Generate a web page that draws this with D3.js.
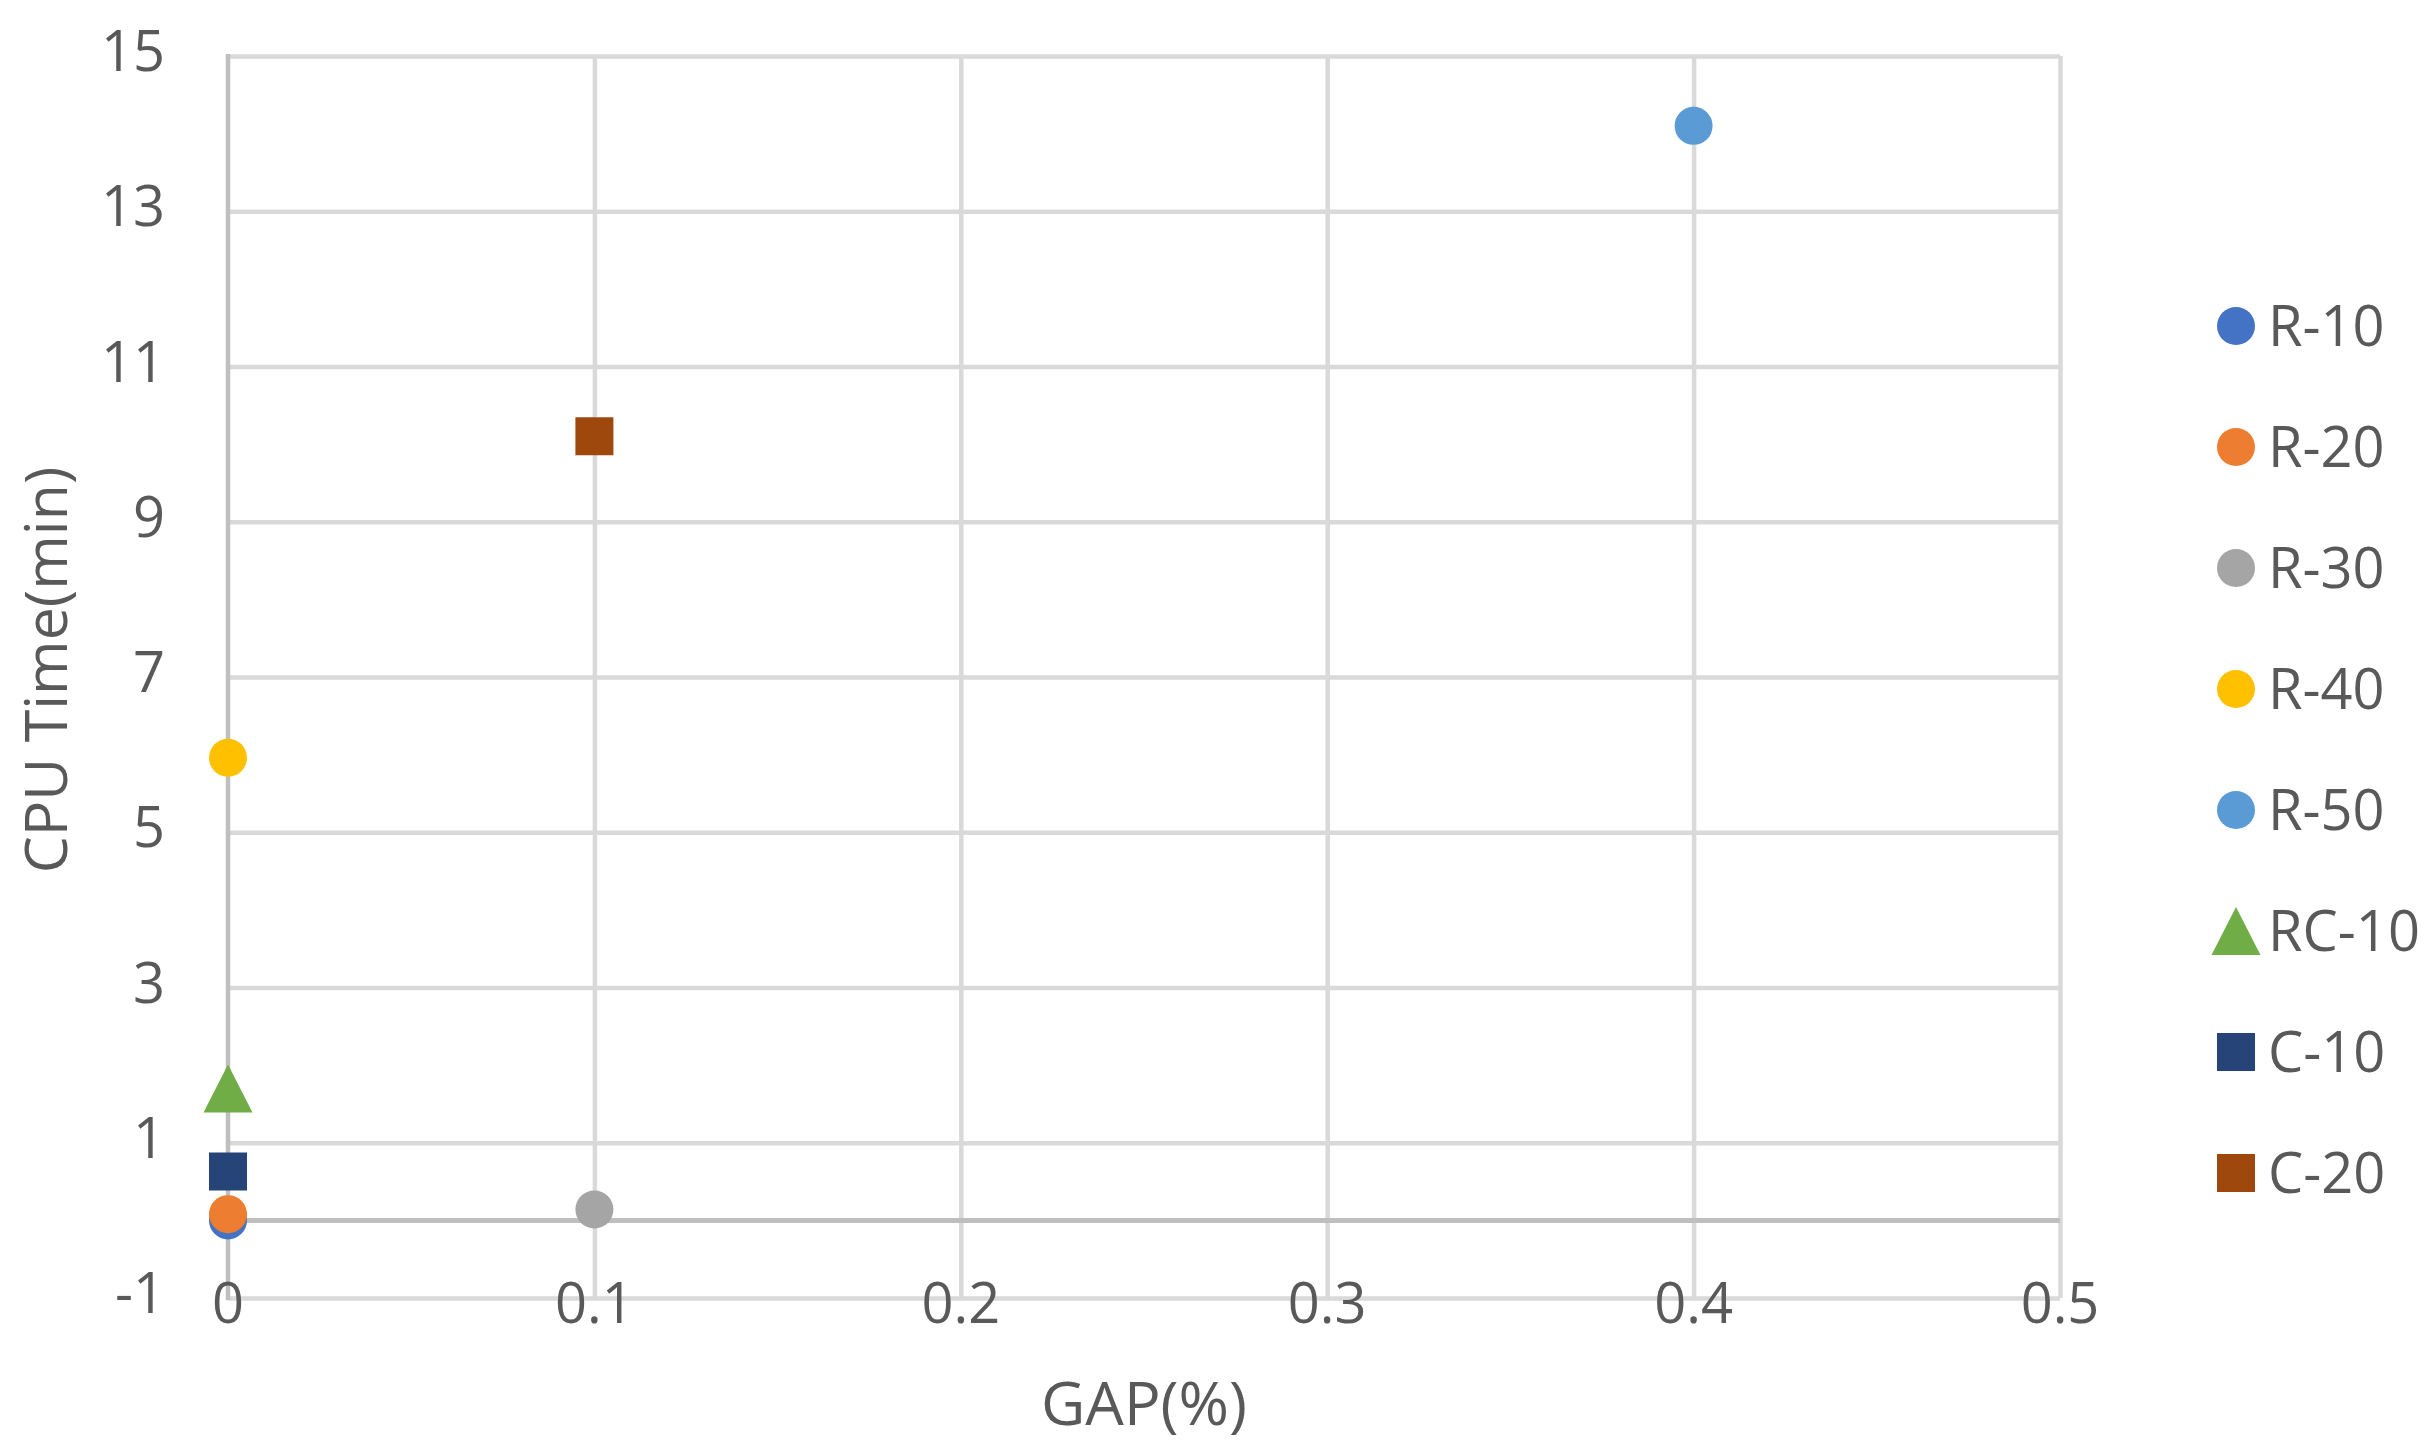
<!DOCTYPE html>
<html>
<head>
<meta charset="utf-8">
<script src="https://cdn.jsdelivr.net/npm/d3@7"></script>
<style>
  html, body { margin: 0; padding: 0; background: #ffffff; }
  svg { display: block; }
  text { font-family: "Open Sans", "Noto Sans", sans-serif; fill: #595959; }
</style>
</head>
<body>
<script>
// ---- Data ----
const seriesNames = ["R-10", "R-20", "R-30", "R-40", "R-50", "RC-10", "C-10", "C-20"];
const gapValues   = [0, 0, 0.1, 0, 0.4, 0, 0, 0.1];
const cpuValues   = [0, 0.08, 0.14, 5.96, 14.1, 1.7, 0.63, 10.1];
const markerShapes = ["circle", "circle", "circle", "circle", "circle", "triangle", "square", "square"];
const seriesColors = ["#4472C4", "#ED7D31", "#A5A5A5", "#FFC000", "#5B9BD5", "#70AD47", "#264478", "#9E480E"];
const xTicks = [0, 0.1, 0.2, 0.3, 0.4, 0.5];
const xTickLabels = ["0", "0.1", "0.2", "0.3", "0.4", "0.5"];
const yTicks = [-1, 1, 3, 5, 7, 9, 11, 13, 15];
const yTickLabels = ["-1", "1", "3", "5", "7", "9", "11", "13", "15"];
const xTitle = "GAP(%)";
const yTitle = "CPU Time(min)";

// ---- Layout ----
const W = 2436, H = 1453;
const plot = { left: 228, right: 2060, top: 56, bottom: 1298 };

const svg = d3.select("body").append("svg").attr("width", W).attr("height", H);

const x = d3.scaleLinear().domain([0, 0.5]).range([plot.left, plot.right]);
const y = d3.scaleLinear().domain([-1, 15]).range([plot.bottom, plot.top]);

const gridColor = "#d9d9d9";
const axisColor = "#bfbfbf";
const gridW = 4.5;

// horizontal gridlines
const yAxisGen = d3.axisLeft(y).tickValues(yTicks).tickSize(-(plot.right - plot.left)).tickFormat("");
const gy = svg.append("g").attr("transform", `translate(${plot.left},0)`).call(yAxisGen);
gy.select(".domain").remove();
gy.selectAll("line").attr("stroke", gridColor).attr("stroke-width", gridW);

// vertical gridlines
const xAxisGen = d3.axisBottom(x).tickValues(xTicks.filter(v => v > 0)).tickSize(-(plot.bottom - plot.top)).tickFormat("");
const gx = svg.append("g").attr("transform", `translate(0,${plot.bottom})`).call(xAxisGen);
gx.select(".domain").remove();
gx.selectAll("line").attr("stroke", gridColor).attr("stroke-width", gridW);

// value axis (at x=0) and category axis (at y=0)
svg.append("line")
  .attr("x1", x(0)).attr("x2", x(0)).attr("y1", plot.top - 2).attr("y2", plot.bottom + 2)
  .attr("stroke", axisColor).attr("stroke-width", gridW);
svg.append("line")
  .attr("x1", x(0)).attr("x2", plot.right).attr("y1", y(0)).attr("y2", y(0))
  .attr("stroke", axisColor).attr("stroke-width", gridW + 0.5);

// y tick labels
svg.append("g").selectAll("text").data(yTicks).join("text")
  .attr("x", 165).attr("y", d => y(d) + 15)
  .attr("text-anchor", "end")
  .attr("font-size", 56)
  .text((d, i) => yTickLabels[i]);

// x tick labels
svg.append("g").selectAll("text").data(xTicks).join("text")
  .attr("x", d => x(d)).attr("y", plot.bottom + 25)
  .attr("text-anchor", "middle")
  .attr("font-size", 56)
  .text((d, i) => xTickLabels[i]);

// axis titles
svg.append("text")
  .attr("x", (plot.left + plot.right) / 2).attr("y", 1425)
  .attr("text-anchor", "middle").attr("font-size", 61)
  .text(xTitle);
svg.append("text")
  .attr("transform", `translate(67,${670}) rotate(-90)`)
  .attr("text-anchor", "middle").attr("font-size", 59)
  .text(yTitle);

// marker path generator (centred on 0,0)
function markerPath(shape) {
  if (shape === "circle") return d3.symbol().type(d3.symbolCircle).size(Math.PI * 19 * 19)();
  if (shape === "square") return d3.symbol().type(d3.symbolSquare).size(38 * 38)();
  // triangle centred on its bounding box
  const p = d3.path();
  p.moveTo(0, -24); p.lineTo(24.5, 24); p.lineTo(-24.5, 24); p.closePath();
  return p.toString();
}

const points = seriesNames.map((name, i) => ({
  name, gx: gapValues[i], cy: cpuValues[i], shape: markerShapes[i], color: seriesColors[i]
}));

// points
svg.append("g").selectAll("path").data(points).join("path")
  .attr("transform", d => `translate(${x(d.gx)},${y(d.cy)})`)
  .attr("d", d => markerPath(d.shape))
  .attr("fill", d => d.color);

// legend
const legendY = d3.scalePoint().domain(seriesNames).range([326, 1173]);
const lg = svg.append("g").selectAll("g").data(points).join("g")
  .attr("transform", d => `translate(2236,${legendY(d.name)})`);
lg.append("path").attr("d", d => markerPath(d.shape)).attr("fill", d => d.color);
lg.append("text").attr("x", 32).attr("y", 20).attr("font-size", 56).text(d => d.name);
</script>
</body>
</html>
